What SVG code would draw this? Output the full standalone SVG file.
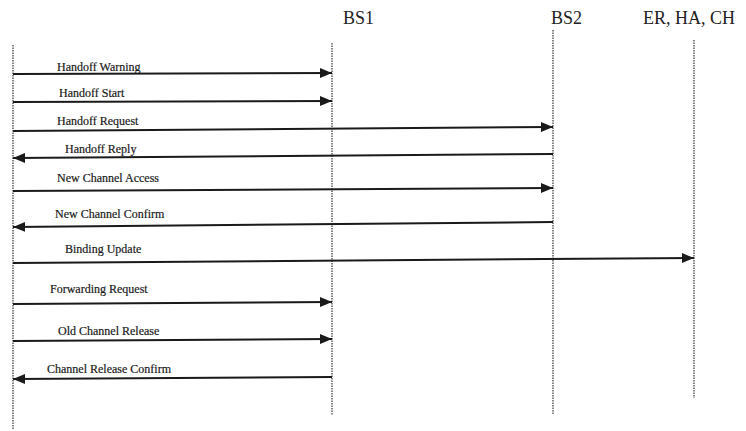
<svg xmlns="http://www.w3.org/2000/svg" width="746" height="431" viewBox="0 0 746 431">
<defs>
<marker id="arr" markerUnits="userSpaceOnUse" markerWidth="13" markerHeight="11" refX="12" refY="5" orient="auto">
<path d="M0,0 L12,5 L0,10 z" fill="#1a1a1a"/>
</marker>
<style>
.life{stroke:#666;stroke-width:1.6;stroke-dasharray:1.5 1;fill:none}
.msg{stroke:#1a1a1a;stroke-width:2;fill:none;marker-end:url(#arr)}
.lbl{font-family:"Liberation Serif","Times New Roman",serif;font-size:12px;fill:#1a1a1a;stroke:#1a1a1a;stroke-width:0.2}
.hdr{font-family:"Liberation Serif","Times New Roman",serif;font-size:18px;fill:#222}
</style>
</defs>
<rect width="746" height="431" fill="#fff"/>
<g id="node-ms">
<line class="life" x1="13" y1="45" x2="13" y2="430"/>
</g>
<g id="node-bs1">
<text class="hdr" x="343" y="24">BS1</text>
<line class="life" x1="332" y1="43" x2="332" y2="415"/>
</g>
<g id="node-bs2">
<text class="hdr" x="551" y="24">BS2</text>
<line class="life" x1="553" y1="30" x2="553" y2="415"/>
</g>
<g id="node-er">
<text class="hdr" x="643" y="24">ER, HA, CH</text>
<line class="life" x1="694" y1="40" x2="694" y2="398"/>
</g>
<g id="connectors">
<line class="msg" x1="13" y1="74" x2="332" y2="73"/>
<text class="lbl" x="57" y="71">Handoff Warning</text>
<line class="msg" x1="13" y1="102" x2="332" y2="101"/>
<text class="lbl" x="59" y="97">Handoff Start</text>
<line class="msg" x1="13" y1="131" x2="553" y2="127"/>
<text class="lbl" x="57" y="125">Handoff Request</text>
<line class="msg" x1="553" y1="154" x2="13" y2="158"/>
<text class="lbl" x="65" y="153">Handoff Reply</text>
<line class="msg" x1="13" y1="191" x2="553" y2="188"/>
<text class="lbl" x="57" y="182">New Channel Access</text>
<line class="msg" x1="553" y1="222" x2="13" y2="227"/>
<text class="lbl" x="55" y="218">New Channel Confirm</text>
<line class="msg" x1="13" y1="263" x2="694" y2="258"/>
<text class="lbl" x="65" y="253">Binding Update</text>
<line class="msg" x1="13" y1="304" x2="332" y2="302"/>
<text class="lbl" x="50" y="293">Forwarding Request</text>
<line class="msg" x1="13" y1="341" x2="332" y2="339"/>
<text class="lbl" x="58" y="335">Old Channel Release</text>
<line class="msg" x1="332" y1="377" x2="13" y2="379"/>
<text class="lbl" x="47" y="373">Channel Release Confirm</text>
</g>
</svg>
